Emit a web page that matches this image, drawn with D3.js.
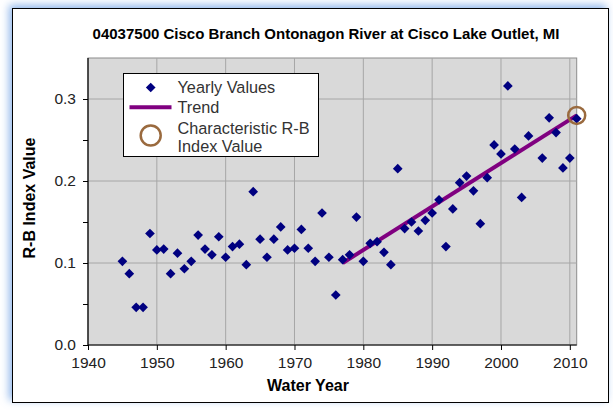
<!DOCTYPE html>
<html>
<head>
<meta charset="utf-8">
<script src="https://cdn.jsdelivr.net/npm/d3@7"></script>
<style>
  body { margin: 0; background: #fff; }
  #frame {
    position: absolute; left: 12px; top: 8px; width: 595px; height: 393px;
    border: 1.5px solid #000; background: #fff;
    box-shadow: -3px -3px 8px rgba(110, 160, 230, 0.75);
  }
  svg { position: absolute; left: 0; top: 0; font-family: "Liberation Sans", Arial, sans-serif; }
</style>
</head>
<body>
<div id="frame"></div>
<svg id="chart" width="613" height="410"></svg>
<script>
// yearly R-B index values (2005 has no value)
const years = [1945,1946,1947,1948,1949,1950,1951,1952,1953,1954,1955,1956,1957,1958,1959,
  1960,1961,1962,1963,1964,1965,1966,1967,1968,1969,1970,1971,1972,1973,1974,1975,1976,
  1977,1978,1979,1980,1981,1982,1983,1984,1985,1986,1987,1988,1989,1990,1991,1992,1993,
  1994,1995,1996,1997,1998,1999,2000,2001,2002,2003,2004,2006,2007,2008,2009,2010,2011];
const values = [0.102,0.087,0.046,0.046,0.136,0.116,0.117,0.087,0.112,0.093,0.102,0.134,0.117,0.110,0.132,
  0.107,0.120,0.123,0.098,0.187,0.129,0.107,0.129,0.144,0.116,0.118,0.141,0.118,0.102,0.161,0.107,0.061,
  0.104,0.110,0.156,0.102,0.124,0.126,0.113,0.098,0.215,0.142,0.150,0.139,0.152,0.161,0.177,0.120,0.166,
  0.198,0.206,0.188,0.148,0.204,0.244,0.233,0.316,0.239,0.180,0.255,0.228,0.277,0.259,0.216,0.228,0.276];

const trendYears = [1977, 2011];
const trendValues = [0.100, 0.280];
const charYear = 2011;
const charValue = 0.280;

const xTicks = [1940,1950,1960,1970,1980,1990,2000,2010];
const yTicks = [0.0,0.1,0.2,0.3];
const yMinor = [0.05,0.15,0.25];

const svg = d3.select('#chart');
const pLeft = 88, pRight = 576.7, pTop = 58, pBottom = 345;

const x = d3.scaleLinear().domain([1940, 2011]).range([pLeft, pRight]);
const y = d3.scaleLinear().domain([0, 0.35]).range([pBottom, pTop]);

// plot area
svg.append('rect')
  .attr('x', pLeft).attr('y', pTop)
  .attr('width', pRight-pLeft).attr('height', pBottom-pTop)
  .attr('fill', '#d9d9d9').attr('stroke', '#8c8c8c').attr('stroke-width', 1);

// grid
svg.append('g').selectAll('line').data(xTicks.slice(1)).join('line')
  .attr('x1', d => x(d)).attr('x2', d => x(d))
  .attr('y1', pTop).attr('y2', pBottom)
  .attr('stroke', '#a6a6a6').attr('stroke-width', 1);
svg.append('g').selectAll('line').data(yTicks.slice(1)).join('line')
  .attr('x1', pLeft).attr('x2', pRight)
  .attr('y1', d => y(d)).attr('y2', d => y(d))
  .attr('stroke', '#a6a6a6').attr('stroke-width', 1);

// axes
const xAxis = svg.append('g').attr('transform', `translate(0,${pBottom})`)
  .call(d3.axisBottom(x).tickValues(xTicks).tickFormat(d3.format('d')).tickSize(5).tickPadding(7));
const yAxis = svg.append('g').attr('transform', `translate(${pLeft},0)`)
  .call(d3.axisLeft(y).tickValues(yTicks.concat(yMinor)).tickFormat(d => yTicks.includes(d) ? d3.format('.1f')(d) : '').tickSize(5).tickPadding(7));
[xAxis, yAxis].forEach(a => {
  a.select('.domain').attr('stroke', '#000').attr('stroke-width', 1.2);
  a.selectAll('.tick line').attr('stroke', '#000');
  a.selectAll('text').attr('font-size', 15.5).attr('fill', '#222')
    .attr('font-family', '"Liberation Sans", Arial, sans-serif');
});
yAxis.select('.domain').attr('d', `M0,${pTop}V${pBottom}`);
xAxis.select('.domain').attr('d', `M${pLeft},0H${pRight}`);

// trend line
const line = d3.line().x(d => x(d[0])).y(d => y(d[1]));
svg.append('path')
  .datum(trendYears.map((t, i) => [t, trendValues[i]]))
  .attr('d', line).attr('fill', 'none')
  .attr('stroke', '#800080').attr('stroke-width', 4);

// yearly values
const diamond = d3.symbol().type(d3.symbolDiamond2).size(60);
svg.append('g').selectAll('path').data(years).join('path')
  .attr('d', diamond)
  .attr('transform', (d, i) => `translate(${x(d)},${y(values[i])})`)
  .attr('fill', '#000080');

// characteristic value
svg.append('circle')
  .attr('cx', x(charYear)).attr('cy', y(charValue)).attr('r', 8.5)
  .attr('fill', 'none').attr('stroke', '#9a6a3e').attr('stroke-width', 2.5);

// title and axis titles
svg.append('text').attr('x', 326).attr('y', 38.5).attr('text-anchor', 'middle')
  .attr('font-size', 15).attr('font-weight', 'bold').attr('fill', '#000')
  .text('04037500 Cisco Branch Ontonagon River at Cisco Lake Outlet, MI');
svg.append('text').attr('x', 308).attr('y', 391).attr('text-anchor', 'middle')
  .attr('font-size', 16).attr('font-weight', 'bold')
  .text('Water Year');
svg.append('text').attr('transform', 'translate(35,198) rotate(-90)').attr('text-anchor', 'middle')
  .attr('font-size', 16).attr('font-weight', 'bold')
  .text('R-B Index Value');

// legend
const lg = svg.append('g');
lg.append('rect').attr('x', 123.5).attr('y', 73.5).attr('width', 195).attr('height', 83)
  .attr('fill', '#fff').attr('stroke', '#000').attr('stroke-width', 1);
lg.append('path').attr('d', diamond).attr('transform', 'translate(150.7,87.5)').attr('fill', '#000080');
lg.append('line').attr('x1', 129.5).attr('x2', 171.5).attr('y1', 107.3).attr('y2', 107.3)
  .attr('stroke', '#800080').attr('stroke-width', 4);
lg.append('circle').attr('cx', 150.7).attr('cy', 135.5).attr('r', 10)
  .attr('fill', 'none').attr('stroke', '#9a6a3e').attr('stroke-width', 2.5);
const legendText = [['Yearly Values', 93], ['Trend', 112.5], ['Characteristic R-B', 133.5], ['Index Value', 152]];
lg.selectAll('text.lt').data(legendText).join('text')
  .attr('x', 177.5).attr('y', d => d[1])
  .attr('font-size', 16.3).attr('fill', '#333')
  .text(d => d[0]);
</script>
</body>
</html>
